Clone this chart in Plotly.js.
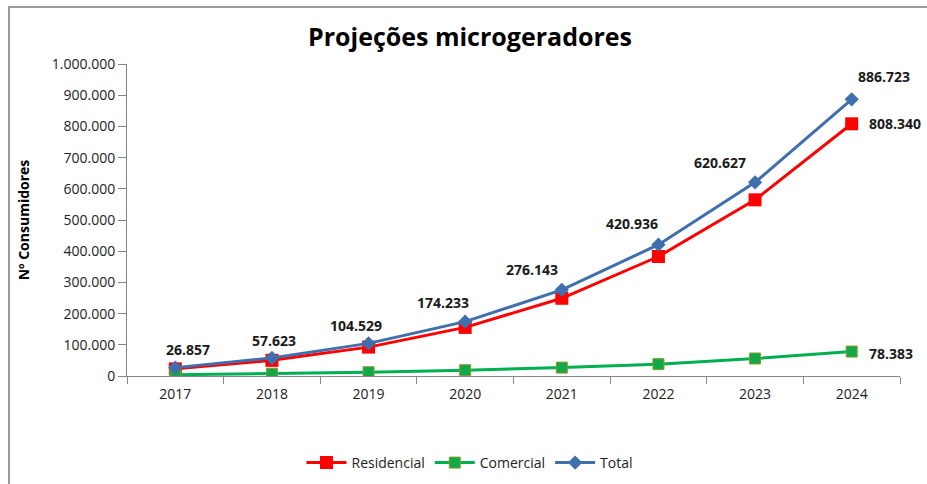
<!DOCTYPE html>
<html>
<head>
<meta charset="utf-8">
<script src="https://cdn.plot.ly/plotly-3.0.1.min.js"></script>
<style>
  html, body { margin: 0; padding: 0; background: #fff; }
  #wrap { position: relative; width: 927px; height: 484px; overflow: hidden; }
  #chart { position: absolute; left: 0; top: 0; width: 927px; height: 484px; }
  #frame { position: absolute; left: 8px; top: 6px; width: 940px; height: 500px;
           border-top: 2px solid #9a9a9a; border-left: 2px solid #9a9a9a; pointer-events: none; }
</style>
</head>
<body>
<div id="wrap">
  <div id="chart"></div>
  <div id="frame"></div>
</div>
<script>
const years = ['2017', '2018', '2019', '2020', '2021', '2022', '2023', '2024'];
const residencial = [22857, 50123, 92529, 155733, 249143, 382936, 564627, 808340];
const comercial = [4000, 7500, 12000, 18500, 27000, 38000, 56000, 78383];
const total = [26857, 57623, 104529, 174233, 276143, 420936, 620627, 886723];
const seriesNames = ['Residencial', 'Comercial', 'Total'];
const chartTitle = 'Projeções microgeradores';
const yTitle = 'Nº Consumidores';

function fmt(v) {
  return String(Math.round(v)).replace(/\B(?=(\d{3})+(?!\d))/g, '.');
}

const FONT = 'Open Sans, Liberation Sans, sans-serif';

const traces = [
  {
    x: years, y: residencial, name: seriesNames[0], type: 'scatter', mode: 'lines+markers',
    line: { color: '#FF0000', width: 3 },
    marker: { symbol: 'square', size: 13, color: '#FF0000', line: { color: '#FF0000', width: 0 } },
    hoverinfo: 'skip'
  },
  {
    x: years, y: comercial, name: seriesNames[1], type: 'scatter', mode: 'lines+markers',
    line: { color: '#00B050', width: 3 },
    marker: { symbol: 'square', size: 11, color: '#12A84A', line: { color: '#8A9A2A', width: 1 } },
    hoverinfo: 'skip'
  },
  {
    x: years, y: total, name: seriesNames[2], type: 'scatter', mode: 'lines+markers',
    line: { color: '#3F6FAD', width: 3 },
    marker: { symbol: 'diamond', size: 11, color: '#3F6FAD' },
    hoverinfo: 'skip'
  }
];

// label offsets (style only)
const totXShift = [13, 2, -13, -22, -30, -26, -35, 32];
const totYShift = [18, 18, 18, 19, 20, 21, 20, 23];
const labelFont = { family: FONT, size: 14, color: '#1a1a1a', weight: 'bold' };

const annotations = [];
total.forEach((v, i) => {
  annotations.push({
    x: i, y: v, xref: 'x', yref: 'y', text: fmt(v), showarrow: false,
    xanchor: 'center', yanchor: 'middle',
    xshift: totXShift[i], yshift: totYShift[i], font: labelFont
  });
});
const last = years.length - 1;
annotations.push({
  x: last, y: residencial[last], xref: 'x', yref: 'y', text: fmt(residencial[last]),
  showarrow: false, xanchor: 'left', yanchor: 'middle', xshift: 15, yshift: 0, font: labelFont
});
annotations.push({
  x: last, y: comercial[last], xref: 'x', yref: 'y', text: fmt(comercial[last]),
  showarrow: false, xanchor: 'left', yanchor: 'middle', xshift: 15, yshift: -2, font: labelFont
});

const layout = {
  width: 927, height: 484,
  margin: { l: 127, r: 27, t: 64, b: 108 },
  paper_bgcolor: '#ffffff', plot_bgcolor: '#ffffff',
  separators: ',.',
  font: { family: FONT, size: 12, color: '#222' },
  title: {
    text: chartTitle, xref: 'container', x: 0.507, xanchor: 'center',
    yref: 'container', y: 1 - 37 / 484, yanchor: 'middle',
    font: { family: FONT, size: 25, color: '#000', weight: 'bold' }
  },
  xaxis: {
    type: 'category', range: [-0.5, 7.5],
    showline: true, linecolor: '#868686', linewidth: 1,
    ticks: 'outside', tickson: 'boundaries', ticklen: 7, tickcolor: '#868686',
    ticklabelstandoff: 5,
    showgrid: false, zeroline: false,
    tickfont: { family: FONT, size: 14, color: '#222' }
  },
  yaxis: {
    range: [0, 1000000], tickvals: [0,100000,200000,300000,400000,500000,600000,700000,800000,900000,1000000],
    tickformat: ',d',
    showline: true, linecolor: '#868686', linewidth: 1,
    ticks: 'outside', ticklen: 8, tickcolor: '#868686',
    showgrid: false, zeroline: false,
    tickfont: { family: FONT, size: 14, color: '#222' },
    title: { text: yTitle, standoff: 18, font: { family: FONT, size: 14, color: '#000', weight: 'bold' } }
  },
  showlegend: true,
  legend: {
    orientation: 'h', x: 0.507, xref: 'container', xanchor: 'center',
    y: 1 - 463 / 484, yref: 'container', yanchor: 'middle',
    font: { family: FONT, size: 14, color: '#222' },
    itemwidth: 40, tracegroupgap: 0, bgcolor: 'rgba(0,0,0,0)'
  },
  annotations: annotations
};

Plotly.newPlot('chart', traces, layout, { displayModeBar: false, staticPlot: true });
</script>
</body>
</html>
